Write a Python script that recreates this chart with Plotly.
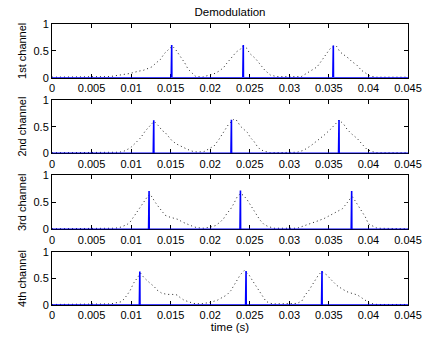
import plotly.graph_objects as go

# ---------------- data ----------------
channel_names = ["1st channel", "2nd channel", "3rd channel", "4th channel"]
x_tick_vals = [0, 0.005, 0.01, 0.015, 0.02, 0.025, 0.03, 0.035, 0.04, 0.045]
x_tick_text = ["0", "0.005", "0.01", "0.015", "0.02", "0.025", "0.03", "0.035", "0.04", "0.045"]
y_tick_vals = [0, 0.5, 1]
y_tick_text = ["0", "0.5", "1"]

# dotted envelopes (time, amplitude)
env1_t = [0, 0.0073, 0.0099, 0.0103, 0.0109, 0.0116, 0.0122, 0.0126, 0.0132, 0.0137, 0.0142, 0.0147, 0.0152,
          0.0156, 0.0160, 0.0164, 0.0168, 0.0172, 0.0177, 0.0181, 0.0190, 0.0200, 0.0206, 0.0212, 0.0217,
          0.0221, 0.0225, 0.0229, 0.0233, 0.0238, 0.0242, 0.0246, 0.0250, 0.0257, 0.0263, 0.0269, 0.0276,
          0.0284, 0.0315, 0.0322, 0.0328, 0.0335, 0.0339, 0.0343, 0.0347, 0.0351, 0.0356, 0.0360, 0.0364,
          0.0370, 0.0375, 0.0379, 0.0385, 0.0391, 0.0398, 0.0402, 0.0410, 0.045]
env1_v = [0.01, 0.02, 0.08, 0.10, 0.12, 0.14, 0.17, 0.20, 0.28, 0.34, 0.45, 0.53, 0.59,
          0.53, 0.45, 0.36, 0.27, 0.16, 0.08, 0.03, 0.01, 0.05, 0.08, 0.13, 0.19,
          0.27, 0.34, 0.42, 0.48, 0.53, 0.59, 0.55, 0.45, 0.36, 0.24, 0.14, 0.05,
          0.02, 0.02, 0.08, 0.14, 0.20, 0.28, 0.36, 0.45, 0.53, 0.59, 0.58, 0.48,
          0.42, 0.36, 0.30, 0.24, 0.14, 0.07, 0.03, 0.01, 0.01]

env2_t = [0, 0.0085, 0.0091, 0.0099, 0.0106, 0.0112, 0.0118, 0.0124, 0.0129, 0.0135, 0.0139, 0.0143, 0.0148,
          0.0152, 0.0158, 0.0164, 0.0171, 0.0177, 0.0183, 0.0192, 0.0198, 0.0205, 0.0211, 0.0215, 0.0219,
          0.0223, 0.0230, 0.0234, 0.0238, 0.0242, 0.0247, 0.0251, 0.0255, 0.0259, 0.0263, 0.0268, 0.0276,
          0.0310, 0.0318, 0.0327, 0.0335, 0.0344, 0.0352, 0.0358, 0.0363, 0.0369, 0.0373, 0.0379, 0.0386,
          0.0392, 0.0398, 0.0405, 0.0411, 0.045]
env2_v = [0.01, 0.02, 0.04, 0.10, 0.20, 0.29, 0.42, 0.52, 0.60, 0.51, 0.43, 0.39, 0.29,
          0.23, 0.17, 0.12, 0.075, 0.04, 0.025, 0.03, 0.075, 0.14, 0.26, 0.36, 0.45,
          0.54, 0.64, 0.61, 0.51, 0.45, 0.39, 0.29, 0.23, 0.14, 0.075, 0.04, 0.01,
          0.02, 0.056, 0.14, 0.23, 0.34, 0.45, 0.54, 0.625, 0.54, 0.45, 0.36, 0.275,
          0.17, 0.075, 0.03, 0.01, 0.01]

env3_t = [0, 0.0080, 0.0087, 0.0095, 0.0099, 0.0103, 0.0108, 0.0112, 0.0116, 0.0120, 0.0124, 0.0127, 0.0131,
          0.0135, 0.0139, 0.0143, 0.0148, 0.0154, 0.0160, 0.0164, 0.0171, 0.0177, 0.0183, 0.0192, 0.0200,
          0.0207, 0.0213, 0.0217, 0.0221, 0.0226, 0.0230, 0.0234, 0.0238, 0.0242, 0.0247, 0.0251, 0.0255,
          0.0259, 0.0263, 0.0268, 0.0272, 0.0280, 0.0310, 0.0318, 0.0327, 0.0335, 0.0344, 0.0352, 0.0360,
          0.0367, 0.0373, 0.0377, 0.0380, 0.0384, 0.0388, 0.0392, 0.0396, 0.0400, 0.0405, 0.0411, 0.045]
env3_v = [0.01, 0.02, 0.04, 0.09, 0.14, 0.23, 0.32, 0.43, 0.51, 0.59, 0.65, 0.57, 0.49,
          0.41, 0.33, 0.26, 0.23, 0.20, 0.18, 0.14, 0.09, 0.06, 0.03, 0.02, 0.04,
          0.07, 0.14, 0.20, 0.29, 0.38, 0.48, 0.60, 0.66, 0.63, 0.54, 0.44, 0.35,
          0.26, 0.17, 0.09, 0.06, 0.02, 0.02, 0.06, 0.10, 0.15, 0.20, 0.26, 0.32,
          0.38, 0.49, 0.57, 0.60, 0.51, 0.41, 0.32, 0.23, 0.10, 0.06, 0.02, 0.01]

env4_t = [0, 0.0074, 0.0087, 0.0091, 0.0095, 0.0099, 0.0103, 0.0108, 0.0112, 0.0116, 0.0120, 0.0124, 0.0129,
          0.0133, 0.0139, 0.0146, 0.0152, 0.0158, 0.0162, 0.0167, 0.0173, 0.0179, 0.0188, 0.0200, 0.0209,
          0.0215, 0.0221, 0.0226, 0.0230, 0.0234, 0.0238, 0.0243, 0.0249, 0.0253, 0.0257, 0.0261, 0.0266,
          0.0270, 0.0274, 0.0280, 0.0310, 0.0316, 0.0320, 0.0325, 0.0329, 0.0333, 0.0337, 0.0341, 0.0348,
          0.0352, 0.0356, 0.0360, 0.0367, 0.0373, 0.0379, 0.0386, 0.0392, 0.0398, 0.0402, 0.0411, 0.045]
env4_v = [0.01, 0.02, 0.06, 0.11, 0.19, 0.28, 0.41, 0.51, 0.60, 0.52, 0.46, 0.41, 0.35,
          0.28, 0.22, 0.20, 0.20, 0.19, 0.14, 0.09, 0.06, 0.03, 0.02, 0.05, 0.09,
          0.14, 0.19, 0.27, 0.37, 0.47, 0.57, 0.65, 0.57, 0.47, 0.38, 0.28, 0.19,
          0.08, 0.04, 0.02, 0.03, 0.08, 0.19, 0.28, 0.38, 0.47, 0.57, 0.63, 0.56,
          0.49, 0.43, 0.37, 0.30, 0.25, 0.22, 0.19, 0.13, 0.06, 0.03, 0.01, 0.01]

# blue demodulated samples (spike times and heights)
spike1_t = [0.01513, 0.02418, 0.03556]
spike1_h = [0.61, 0.61, 0.60]
spike2_t = [0.01286, 0.02268, 0.03628]
spike2_h = [0.62, 0.63, 0.625]
spike3_t = [0.01227, 0.02382, 0.03788]
spike3_h = [0.71, 0.72, 0.71]
spike4_t = [0.01110, 0.02453, 0.03413]
spike4_h = [0.63, 0.64, 0.64]

t_start, t_end = 0.0, 0.045

envelopes = [(env1_t, env1_v), (env2_t, env2_v), (env3_t, env3_v), (env4_t, env4_v)]
spikes = [(spike1_t, spike1_h), (spike2_t, spike2_h), (spike3_t, spike3_h), (spike4_t, spike4_h)]

# ---------------- figure ----------------
W, H = 425, 337
ml, mr, mt, mb = 52, 17, 24, 32
plot_h = H - mt - mb
# panel pixel extents (top, bottom) within the page
panels_px = [(24, 77.7), (100, 153.3), (175.3, 229.3), (252, 305)]

font_family = "Liberation Sans, Arial, Helvetica, sans-serif"
fig = go.Figure()

for i in range(4):
    xa = "x" if i == 0 else f"x{i+1}"
    ya = "y" if i == 0 else f"y{i+1}"
    et, ev = envelopes[i]
    fig.add_trace(go.Scatter(x=et, y=ev, mode="lines", xaxis=xa, yaxis=ya,
                             line=dict(color="#222222", width=1, dash="1px,3px"),
                             showlegend=False, hoverinfo="skip"))
    st, sh = spikes[i]
    sx, sy = [t_start], [0]
    for t, h in zip(st, sh):
        sx += [t - 0.00006, t, t + 0.00002]
        sy += [0, h, 0]
    sx.append(t_end)
    sy.append(0)
    fig.add_trace(go.Scatter(x=sx, y=sy, mode="lines", xaxis=xa, yaxis=ya,
                             line=dict(color="#0000ff", width=1.6),
                             showlegend=False, hoverinfo="skip"))

    top, bot = panels_px[i]
    d0 = (H - mb - bot) / plot_h
    d1 = (H - mb - top) / plot_h
    axis_common = dict(showline=True, linecolor="black", linewidth=1, mirror="ticks",
                       ticks="inside", ticklen=4, tickcolor="black", showgrid=False,
                       zeroline=False, tickfont=dict(family=font_family, size=11, color="black"),
                       layer="below traces", automargin=False)
    xkey = "xaxis" if i == 0 else f"xaxis{i+1}"
    ykey = "yaxis" if i == 0 else f"yaxis{i+1}"
    xcfg = dict(axis_common, domain=[0, 1], range=[t_start, t_end], tickvals=x_tick_vals,
                ticktext=x_tick_text, anchor=ya)
    if i == 3:
        xcfg["title"] = dict(text="time (s)", font=dict(family=font_family, size=11.5, color="black"),
                             standoff=2)
    ycfg = dict(axis_common, domain=[max(0, d0), min(1, d1)], range=[0, 1], tickvals=y_tick_vals,
                ticktext=y_tick_text, anchor=xa,
                title=dict(text=channel_names[i], font=dict(family=font_family, size=11, color="black"),
                           standoff=4))
    fig.update_layout(**{xkey: xcfg, ykey: ycfg})

fig.update_layout(
    width=W, height=H,
    margin=dict(l=ml, r=mr, t=mt, b=mb, pad=0),
    paper_bgcolor="white", plot_bgcolor="white",
    title=dict(text="Demodulation", x=0.5, xref="paper", y=1 - 12 / H, yref="container",
               xanchor="center", yanchor="middle",
               font=dict(family=font_family, size=11.5, color="black")),
    showlegend=False,
)

fig.write_html("out.html", config={"displayModeBar": False},
               post_script="document.body.style.margin='0';document.body.style.overflow='hidden';")
